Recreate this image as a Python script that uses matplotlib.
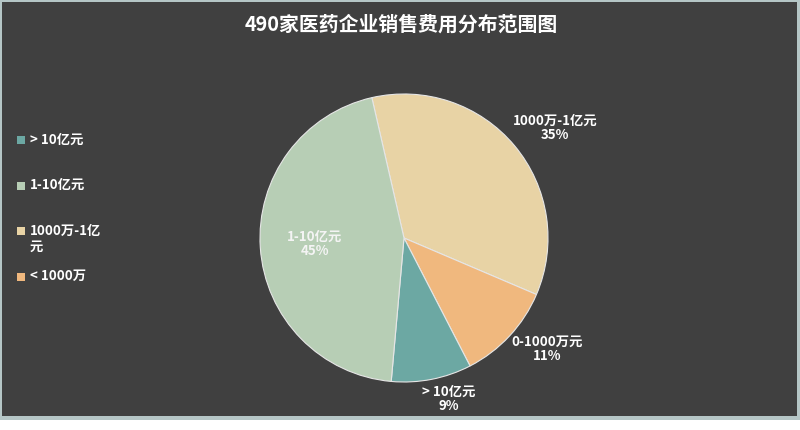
import numpy as np
import matplotlib
matplotlib.use("Agg")
from matplotlib import pyplot as plt
from matplotlib.patches import Rectangle

plt.rcParams['font.family'] = ['Noto Sans CJK SC', 'DejaVu Sans']

# data
title = "490家医药企业销售费用分布范围图"
slice_labels = ["1000万-1亿元", "0-1000万元", "> 10亿元", "1-10亿元"]
slice_values = [35, 11, 9, 45]
slice_colors = ["#e8d3a5", "#f0b87e", "#6ca8a3", "#b7ceb5"]
legend_labels = ["> 10亿元", "1-10亿元", "1000万-1亿\n元", "< 1000万"]
legend_colors = ["#6ca8a3", "#b7ceb5", "#e8d3a5", "#f0b87e"]

BG = "#404040"
W, H = 800, 430

fig = plt.figure(figsize=(8, 4.3), dpi=100, facecolor="white")

# frame + dark background
fig.patches.append(Rectangle((0, 10 / H), 1, 420 / H, transform=fig.transFigure,
                             facecolor="#b5c6c6", edgecolor="none", zorder=-2))
fig.patches.append(Rectangle((2 / W, 14 / H), 795 / W, 414 / H, transform=fig.transFigure,
                             facecolor=BG, edgecolor="none", zorder=-1))

fig.text(401 / W, 1 - 24 / H, title, ha="center", va="center", color="white",
         fontsize=14.3, fontweight="bold")

# pie axes: center (404, 238) px, radius 144 px
cx, cy, r, half = 404, 238, 144, 190
ax = fig.add_axes([(cx - half) / W, (H - cy - half) / H, 2 * half / W, 2 * half / H])

wedges, _ = ax.pie(slice_values, colors=slice_colors, startangle=102.9, counterclock=False,
                   wedgeprops=dict(edgecolor="#e6e6e6", linewidth=0.8), radius=1)
ax.set_xlim(-half / r, half / r)
ax.set_ylim(-half / r, half / r)
ax.axis("off")
ax.patch.set_alpha(0)

# label placement: distance from centre and angle nudge (degrees)
label_r = [1.30, 1.257, 1.16, 0.62]
label_shift = [-3.8, 5.1, 4.5, 0]
for w, lab, val, lr, sh in zip(wedges, slice_labels, slice_values, label_r, label_shift):
    mid = np.deg2rad((w.theta1 + w.theta2) / 2 + sh)
    ax.text(lr * np.cos(mid), lr * np.sin(mid), f"{lab}\n{val}%", ha="center", va="center",
            color="white" if lr > 1 else "#f4f4f4", fontsize=9.6, fontweight="bold",
            linespacing=1.0)

# legend drawn by hand
for i, (lab, col) in enumerate(zip(legend_labels, legend_colors)):
    y = 140 + 45.5 * i
    fig.patches.append(Rectangle((17 / W, 1 - (y + 4) / H), 8 / W, 8 / H,
                                 transform=fig.transFigure, facecolor=col, edgecolor="none"))
    fig.text(30 / W, 1 - (y - 7.5) / H, lab, ha="left", va="top", color="white",
             fontsize=9.6, fontweight="bold", linespacing=1.2)

fig.savefig("out.png", dpi=100, facecolor=fig.get_facecolor())
